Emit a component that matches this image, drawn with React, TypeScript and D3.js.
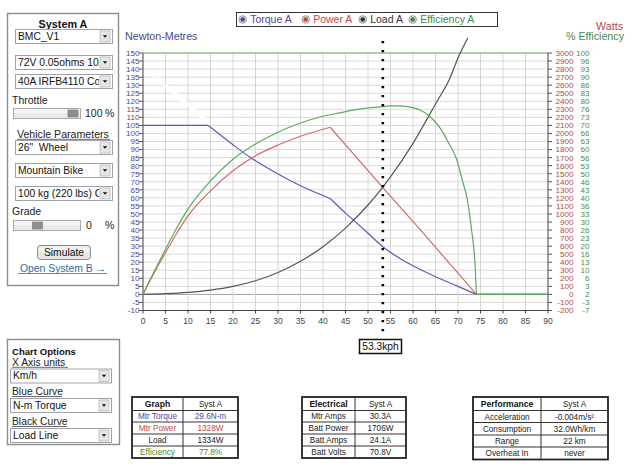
import React from "react";
import * as d3 from "d3";

// ---------- data ----------
const speedTicks = [0, 5, 10, 15, 20, 25, 30, 35, 40, 45, 50, 55, 60, 65, 70, 75, 80, 85, 90];
const nmTicks = [150, 145, 140, 135, 130, 125, 120, 115, 110, 105, 100, 95, 90, 85, 80, 75, 70, 65, 60, 55, 50, 45, 40, 35, 30, 25, 20, 15, 10, 5, 0, -5, -10];
const wattLabels = ["3000", "2900", "2800", "2700", "2600", "2500", "2400", "2300", "2200", "2100", "2000", "1900", "1800", "1700", "1600", "1500", "1400", "1300", "1200", "1100", "1000", "900", "800", "700", "600", "500", "400", "300", "200", "100", "0", "-100", "-200"];
const effLabels = ["100", "96", "93", "90", "86", "83", "80", "76", "73", "70", "66", "63", "60", "56", "53", "50", "46", "43", "40", "36", "33", "30", "26", "23", "20", "16", "13", "10", "6", "3", "2", "-3", "-7"];

const torqueSpeed = [0, 14.5, 17, 20, 23.8, 25, 30, 35, 41.6, 45, 48.2, 50, 53.3, 57, 60, 65, 70, 74.1, 80, 90];
const torqueNm = [105, 105, 99.5, 93, 85.2, 83, 74.8, 67.5, 59.6, 50.5, 42.6, 38, 29.6, 22.5, 17.8, 11, 5, 0, 0, 0];
const torqueBreaks = [14.5, 41.6, 74.1];

const powerSpeed = [0, 1, 2.5, 5, 7.5, 10, 15, 20, 25, 30, 35, 41.6, 53.3, 61.6, 74.1, 80, 90];
const powerW = [0, 110, 270, 520, 760, 976, 1287, 1536, 1723, 1857, 1965, 2077, 1328, 805, 0, 0, 0];
const powerBreaks = [41.6, 74.1];

const loadSpeed = [0, 5, 10, 15, 20, 25, 30, 35, 40, 45, 50, 53.3, 55, 60, 65, 68.3, 70, 72.2];
const loadW = [0, 9, 25, 53, 99, 170, 272, 411, 593, 824, 1111, 1334, 1460, 1877, 2367, 2700, 2939, 3190];
const loadBreaks: number[] = [];

const effSpeed = [0, 1, 2.5, 5, 7.5, 10, 15, 20, 25, 30, 35, 40, 44, 46, 50, 53.3, 55, 57, 60, 62, 64, 66, 68, 69.7, 71, 72, 73, 73.8, 74.1, 80, 90];
const effPct = [0, 4, 9.5, 18.7, 27.5, 35.3, 47, 56, 62.3, 67.2, 71, 73.8, 75.3, 76.1, 77.3, 77.8, 78.1, 78.1, 77.4, 76, 73.3, 69, 62.5, 56, 47, 40, 27, 12, 0, 0, 0];
const effBreaks = [74.1];

const cursorSpeed = 53.3;

const legendItems = ["Torque A", "Power A", "Load A", "Efficiency A"];
const legendColors = ["#4848a8", "#c44848", "#333333", "#3c8c3c"];

const table1Rows = [["Graph", "Syst A"], ["Mtr Torque", "29.6N-m"], ["Mtr Power", "1328W"], ["Load", "1334W"], ["Efficiency", "77.8%"]];
const table1Colors = ["#111", "#4848a8", "#c44848", "#222", "#3c8c3c"];
const table2Rows = [["Electrical", "Syst A"], ["Mtr Amps", "30.3A"], ["Batt Power", "1706W"], ["Batt Amps", "24.1A"], ["Batt Volts", "70.8V"]];
const table3Rows = [["Performance", "Syst A"], ["Acceleration", "-0.004m/s²"], ["Consumption", "32.0Wh/km"], ["Range", "22 km"], ["Overheat In", "never"]];

// ---------- helpers ----------
const F = "'Liberation Sans', Arial, sans-serif";

function segments(xs: number[], ys: number[], breaks: number[]) {
  const segs: [number, number][][] = [];
  let cur: [number, number][] = [];
  xs.forEach((xv, i) => {
    cur.push([xv, ys[i]]);
    if (breaks.includes(xv) && cur.length > 1) {
      segs.push(cur);
      cur = [[xv, ys[i]]];
    }
  });
  if (cur.length > 1) segs.push(cur);
  return segs;
}

let clipId = 0;

function Select({ x, y, w, h, text }: { x: number; y: number; w: number; h: number; text: string }) {
  const id = `selclip${clipId++}`;
  const bx = x + w - 12;
  const cy = y + h / 2;
  return (
    <g>
      <clipPath id={id}>
        <rect x={x + 1} y={y} width={w - 14} height={h} />
      </clipPath>
      <rect x={x + 0.5} y={y + 0.5} width={w} height={h} fill="#fff" stroke="#9ea3ab" />
      <rect x={bx} y={y + 2} width={10} height={h - 3} fill="#e6e6e6" stroke="#b8b8b8" strokeWidth={0.8} />
      <path d={`M${bx + 2.8},${cy - 0.8} L${bx + 7.2},${cy - 0.8} L${bx + 5},${cy + 1.8} Z`} fill="#111" />
      <text x={x + 3} y={cy + 3.8} fontFamily={F} fontSize={10.3} fill="#111" clipPath={`url(#${id})`} style={{ whiteSpace: "pre" }}>
        {text}
      </text>
    </g>
  );
}

function Slider({ x, y, w, h, tx }: { x: number; y: number; w: number; h: number; tx: number }) {
  return (
    <g>
      <rect x={x + 0.5} y={y + 0.5} width={w} height={h} fill="#e9e9e9" stroke="#a9a9a9" />
      <rect x={x + 1} y={y + 1} width={w - 1} height={h / 2 - 1} fill="#f4f4f4" />
      <rect x={tx} y={y + 2} width={10} height={h - 3} fill="#8e8e8e" stroke="#777" strokeWidth={0.6} />
    </g>
  );
}

function Table({ x, y, w, split, rowH, rows, colors }: { x: number; y: number; w: number; split: number; rowH: number[]; rows: string[][]; colors?: string[] }) {
  const ys: number[] = [y];
  rowH.forEach((hh) => ys.push(ys[ys.length - 1] + hh));
  const h = ys[ys.length - 1] - y;
  return (
    <g>
      <rect x={x} y={y} width={w} height={h} fill="#fff" stroke="#222" strokeWidth={1.8} />
      {ys.slice(1, -1).map((yy, i) => (
        <line key={i} x1={x} x2={x + w} y1={yy} y2={yy} stroke="#333" strokeWidth={1} />
      ))}
      <line x1={split} x2={split} y1={y} y2={y + h} stroke="#333" strokeWidth={1} />
      {rows.map((r, i) => {
        const cy = (ys[i] + ys[i + 1]) / 2 + 3;
        const col = colors ? colors[i] : "#222";
        const bold = i === 0 ? "bold" : "normal";
        return (
          <g key={i}>
            <text x={(x + split) / 2} y={cy} textAnchor="middle" fontFamily={F} fontSize={i === 0 ? 8.6 : 8.2} fontWeight={bold} fill={i === 0 ? "#111" : col}>
              {r[0]}
            </text>
            <text x={(split + x + w) / 2} y={cy} textAnchor="middle" fontFamily={F} fontSize={8.2} fill={i === 0 ? "#222" : col}>
              {r[1]}
            </text>
          </g>
        );
      })}
    </g>
  );
}

export default function App() {
  clipId = 0;
  const x = d3.scaleLinear().domain([0, 90]).range([143, 548]);
  const yNm = d3.scaleLinear().domain([-10, 150]).range([310.5, 53]);
  const yW = d3.scaleLinear().domain([-200, 3000]).range([310.5, 53]);
  const yEff = d3.scaleLinear().domain([-10 / 1.5, 100]).range([310.5, 53]);

  const mk = (ys: d3.ScaleLinear<number, number>) =>
    d3
      .line<[number, number]>()
      .x((d) => x(d[0]))
      .y((d) => ys(d[1]))
      .curve(d3.curveMonotoneX);

  const series = [
    { segs: segments(torqueSpeed, torqueNm, torqueBreaks), scale: yNm, color: "#5c5cb8" },
    { segs: segments(powerSpeed, powerW, powerBreaks), scale: yW, color: "#d46a6a" },
    { segs: segments(loadSpeed, loadW, loadBreaks), scale: yW, color: "#555555" },
    { segs: segments(effSpeed, effPct, effBreaks), scale: yEff, color: "#5cab5c" },
  ];

  const legendX = [242.7, 305.7, 362.7, 412.7];

  return (
    <svg width={640} height={474} style={{ position: "absolute", left: 0, top: 0, background: "#fff" }}>
      <rect x={0} y={0} width={640} height={474} fill="#fff" />

      {/* ---------- System A panel ---------- */}
      <rect x={7.5} y={13.5} width={111} height={272} fill="#fff" stroke="#8c8c8c" strokeWidth={1.4} />
      <text x={63} y={28} textAnchor="middle" fontFamily={F} fontSize={10.8} fontWeight="bold" fill="#111">System A</text>
      <Select x={15} y={29} w={97} h={14} text="BMC_V1" />
      <Select x={15} y={55} w={97} h={14} text="72V 0.05ohms 10A" />
      <Select x={15} y={74} w={97} h={14} text="40A IRFB4110 Co" />
      <text x={12} y={104} fontFamily={F} fontSize={10.5} fill="#222">Throttle</text>
      <Slider x={13} y={108} w={67} h={10} tx={68} />
      <text x={85} y={117} fontFamily={F} fontSize={10.5} fill="#222">100</text>
      <text x={105} y={117} fontFamily={F} fontSize={10.5} fill="#222">%</text>
      <text x={17} y={137.5} fontFamily={F} fontSize={10.6} fill="#222">Vehicle Parameters</text>
      <line x1={17} x2={110} y1={139.3} y2={139.3} stroke="#444" strokeWidth={0.8} />
      <Select x={15} y={140} w={97} h={14} text={"26\"\u00a0 Wheel"} />
      <Select x={15} y={163} w={97} h={14} text="Mountain Bike" />
      <Select x={15} y={186} w={97} h={14} text="100 kg (220 lbs) C" />
      <text x={12} y={215} fontFamily={F} fontSize={10.5} fill="#222">Grade</text>
      <Slider x={13} y={220} w={67} h={10} tx={32.5} />
      <text x={86} y={229} fontFamily={F} fontSize={10.5} fill="#222">0</text>
      <text x={105} y={229} fontFamily={F} fontSize={10.5} fill="#222">%</text>
      <rect x={37.5} y={245.5} width={53} height={14} rx={3} fill="#e6e6e6" stroke="#8a8a8a" />
      <rect x={38.5} y={246.5} width={51} height={6} rx={2} fill="#f2f2f2" />
      <text x={64} y={256} textAnchor="middle" fontFamily={F} fontSize={10.3} fill="#111">Simulate</text>
      <text x={63} y={272} textAnchor="middle" fontFamily={F} fontSize={10.4} fill="#2c6e9e">Open System B →</text>
      <line x1={18} x2={107} y1={273.5} y2={273.5} stroke="#2c6e9e" strokeWidth={0.8} />

      {/* ---------- Chart Options panel ---------- */}
      <rect x={7.5} y={339.5} width={112} height={105} fill="#fff" stroke="#8c8c8c" strokeWidth={1.4} />
      <text x={12} y={354.5} fontFamily={F} fontSize={9.6} fontWeight="bold" fill="#111">Chart Options</text>
      <text x={12} y={365.5} fontFamily={F} fontSize={10.3} fill="#222">X Axis units</text>
      <line x1={12} x2={68} y1={367.3} y2={367.3} stroke="#444" strokeWidth={0.8} />
      <Select x={10} y={368.5} w={101} h={14} text="Km/h" />
      <text x={12} y={394.5} fontFamily={F} fontSize={10.3} fill="#222">Blue Curve</text>
      <line x1={12} x2={62} y1={396.5} y2={396.5} stroke="#444" strokeWidth={0.8} />
      <Select x={10} y={398} w={101} h={14} text="N-m Torque" />
      <text x={12} y={424.5} fontFamily={F} fontSize={10.3} fill="#222">Black Curve</text>
      <line x1={12} x2={67} y1={426.5} y2={426.5} stroke="#444" strokeWidth={0.8} />
      <Select x={10} y={428} w={101} h={14} text="Load Line" />

      {/* ---------- Legend & titles ---------- */}
      <rect x={236.5} y={12.5} width={261} height={14} fill="#fff" stroke="#333" strokeWidth={1} />
      {legendItems.map((t, i) => (
        <g key={t}>
          <circle cx={legendX[i]} cy={19.5} r={3.8} fill="#ddd" stroke="#888" strokeWidth={0.8} />
          <circle cx={legendX[i]} cy={19.5} r={2.3} fill={legendColors[i]} />
          <text x={legendX[i] + 7.5} y={23.3} fontFamily={F} fontSize={10.5} fill={legendColors[i]}>{t}</text>
        </g>
      ))}
      <text x={125} y={40} fontFamily={F} fontSize={10.7} fill="#4a4a8c">Newton-Metres</text>
      <text x={623} y={29.5} textAnchor="end" fontFamily={F} fontSize={10.7} fill="#b84848">Watts</text>
      <text x={624} y={40} textAnchor="end" fontFamily={F} fontSize={10.7} fill="#4a8a4a">% Efficiency</text>

      {/* ---------- grid ---------- */}
      {nmTicks.map((v) => (
        <line key={"h" + v} x1={x(0)} x2={x(90)} y1={yNm(v)} y2={yNm(v)} stroke={v === 0 ? "#a0a0a0" : "#dadada"} strokeWidth={1} />
      ))}
      {speedTicks.map((v) => (
        <line key={"v" + v} x1={x(v)} x2={x(v)} y1={yNm(150)} y2={yNm(-10)} stroke="#d6d6d6" strokeWidth={1} />
      ))}
      {/* white glare artifact */}
      <line x1={x(1.2)} y1={yNm(139)} x2={x(14)} y2={yNm(108)} stroke="#fff" strokeWidth={4.5} strokeDasharray="9 2" />
      <line x1={x(0)} x2={x(90)} y1={yNm(150)} y2={yNm(150)} stroke="#6cb36c" strokeWidth={1.2} />

      {/* ---------- axes ---------- */}
      <line x1={x(0)} x2={x(0)} y1={yNm(150)} y2={yNm(-10)} stroke="#555" />
      <line x1={x(90)} x2={x(90)} y1={yNm(150)} y2={yNm(-10)} stroke="#555" />
      <line x1={x(0)} x2={x(90)} y1={yNm(-10)} y2={yNm(-10)} stroke="#444" strokeWidth={1.2} />
      {nmTicks.map((v, i) => (
        <g key={"t" + v}>
          <line x1={x(0) - 4} x2={x(0)} y1={yNm(v)} y2={yNm(v)} stroke="#555" />
          <text x={139.5} y={yNm(v) + 2.9} textAnchor="end" fontFamily={F} fontSize={8.1} fill="#4a4a9a">{v}</text>
          <line x1={x(90)} x2={x(90) + 4} y1={yNm(v)} y2={yNm(v)} stroke="#555" />
          <text x={573.5} y={yW(+wattLabels[i]) + 2.9} textAnchor="end" fontFamily={F} fontSize={8.1} fill="#b44848">{wattLabels[i]}</text>
          <text x={589.5} y={yNm(v) + 2.9} textAnchor="end" fontFamily={F} fontSize={8.1} fill="#4a904a">{effLabels[i]}</text>
        </g>
      ))}
      {speedTicks.map((v) => (
        <g key={"x" + v}>
          <line x1={x(v)} x2={x(v)} y1={yNm(-10)} y2={yNm(-10) + 3} stroke="#444" />
          <text x={x(v)} y={324} textAnchor="middle" fontFamily={F} fontSize={8.5} fill="#444">{v}</text>
        </g>
      ))}

      {/* ---------- curves ---------- */}
      {series.map((s, si) =>
        s.segs.map((seg, k) => (
          <path key={si + "-" + k} d={mk(s.scale)(seg) || ""} fill="none" stroke={s.color} strokeWidth={1.2} />
        ))
      )}

      {/* ---------- cursor ---------- */}
      <line x1={x(cursorSpeed)} x2={x(cursorSpeed)} y1={41} y2={338} stroke="#000" strokeWidth={2.6} strokeDasharray="2.2 6.8" />
      <rect x={359.5} y={339.5} width={42} height={14} fill="#fff" stroke="#111" strokeWidth={1.5} />
      <text x={380.5} y={350.3} textAnchor="middle" fontFamily={F} fontSize={10.3} fill="#111">{cursorSpeed}kph</text>

      {/* ---------- tables ---------- */}
      <Table x={132} y={397} w={106} split={183} rowH={[13.5, 11.5, 12, 12, 12]} rows={table1Rows} colors={table1Colors} />
      <Table x={302} y={397} w={104} split={355} rowH={[13.5, 11.5, 12, 12, 12]} rows={table2Rows} />
      <Table x={473} y={397} w={135} split={541} rowH={[13.5, 12, 12.5, 12, 12.5]} rows={table3Rows} />
    </svg>
  );
}
